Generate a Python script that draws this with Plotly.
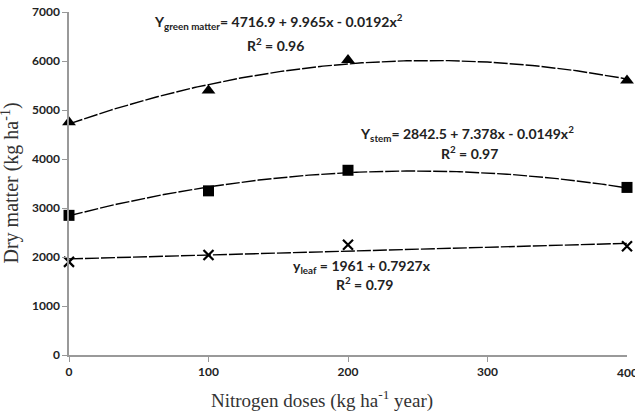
import numpy as np
import plotly.graph_objects as go

# Data
doses = [0, 100, 200, 400]
green_matter = [4750, 5400, 6020, 5600]
stem = [2850, 3350, 3770, 3420]
leaf = [1900, 2040, 2250, 2220]

# Trend-line coefficients as printed on the chart (c0, c1, c2)
green_coef = [4716.9, 9.965, -0.0192]
stem_coef = [2842.5, 7.378, -0.0149]
leaf_coef = [1961, 0.7927, 0.0]

x_ticks = [0, 100, 200, 300, 400]
y_ticks = [0, 1000, 2000, 3000, 4000, 5000, 6000, 7000]

xs = np.linspace(0, 400, 201)


def trend(c):
    return c[0] + c[1] * xs + c[2] * xs ** 2


fig = go.Figure()
line_style = dict(color="black", width=1.4, dash="14px,2px")
for coef in (green_coef, stem_coef, leaf_coef):
    fig.add_trace(go.Scatter(x=xs, y=trend(coef), mode="lines", line=line_style,
                             hoverinfo="skip", showlegend=False))

fig.add_trace(go.Scatter(x=doses, y=green_matter, mode="markers",
                         marker=dict(symbol="triangle-up", size=12, color="black"),
                         showlegend=False, cliponaxis=False))
fig.add_trace(go.Scatter(x=doses, y=stem, mode="markers",
                         marker=dict(symbol="square", size=11, color="black"),
                         showlegend=False, cliponaxis=False))
fig.add_trace(go.Scatter(x=doses, y=leaf, mode="markers",
                         marker=dict(symbol="x-thin", size=10, color="black",
                                     line=dict(width=2.2, color="black")),
                         showlegend=False, cliponaxis=False))

ann_font = dict(family="Lato", size=14, color="#222")
annotations = [
    dict(x=150, y=6800, text="<b>Y<sub>green matter</sub>= 4716.9 + 9.965x - 0.0192x<sup>2</sup></b>"),
    dict(x=148, y=6330, text="<b>R<sup>2</sup> = 0.96</b>"),
    dict(x=285, y=4530, text="<b>Y<sub>stem</sub>= 2842.5 + 7.378x - 0.0149x<sup>2</sup></b>"),
    dict(x=287, y=4130, text="<b>R<sup>2</sup> = 0.97</b>"),
    dict(x=210, y=1800, text="<b>y<sub>leaf</sub> = 1961 + 0.7927x</b>"),
    dict(x=212, y=1450, text="<b>R<sup>2</sup> = 0.79</b>"),
]
for a in annotations:
    a.update(xref="x", yref="y", showarrow=False, font=ann_font)

tick_font = dict(family="Lato", size=12, color="#222")

# last x tick label (cut by the right edge in the reference)
annotations.append(dict(xref="x", yref="paper", x=x_ticks[-1], y=0, yshift=-17,
                        yanchor="middle", showarrow=False,
                        text=f"<b>{x_ticks[-1]}</b>", font=tick_font))

# x-axis title, placed slightly left of plot centre as in the reference
annotations.append(dict(xref="paper", yref="paper", x=(322 - 69) / 558, y=0,
                        yshift=-44, yanchor="middle", showarrow=False,
                        text="Nitrogen doses (kg ha<sup>-1</sup> year)",
                        font=dict(family="Liberation Serif", size=19, color="#333")))

# y-axis title, partly cut by the left edge as in the reference
annotations.append(dict(xref="paper", yref="paper", x=0, y=0.5, xshift=-59,
                        xanchor="center", yanchor="middle", textangle=-90,
                        showarrow=False, text="Dry matter (kg ha<sup>-1</sup>)",
                        font=dict(family="Liberation Serif", size=20, color="#333")))

fig.update_layout(
    width=635, height=412,
    margin=dict(l=69, r=8, t=12, b=57),
    paper_bgcolor="white", plot_bgcolor="white",
    annotations=annotations,
    xaxis=dict(range=[0, 400], tickvals=x_ticks[:-1], ticktext=[f"<b>{v}</b>" for v in x_ticks[:-1]],
               showgrid=False, zeroline=False, showline=True, linecolor="#999", linewidth=1.5,
               ticks="outside", tickcolor="#999", ticklen=5, tickfont=tick_font,
               automargin=False),
    yaxis=dict(range=[0, 7000], tickvals=y_ticks, ticktext=[f"<b>{v}</b>" for v in y_ticks],
               showgrid=False, zeroline=False, showline=True, linecolor="#999", linewidth=1.5,
               ticks="outside", tickcolor="#999", ticklen=5, tickfont=tick_font,
               automargin=False),
)
# tick mark at the right end
fig.add_shape(type="line", xref="x", yref="y", x0=x_ticks[-1], x1=x_ticks[-1],
              y0=0, y1=-100, line=dict(color="#999", width=1.5))

fig.write_html("out.html")
